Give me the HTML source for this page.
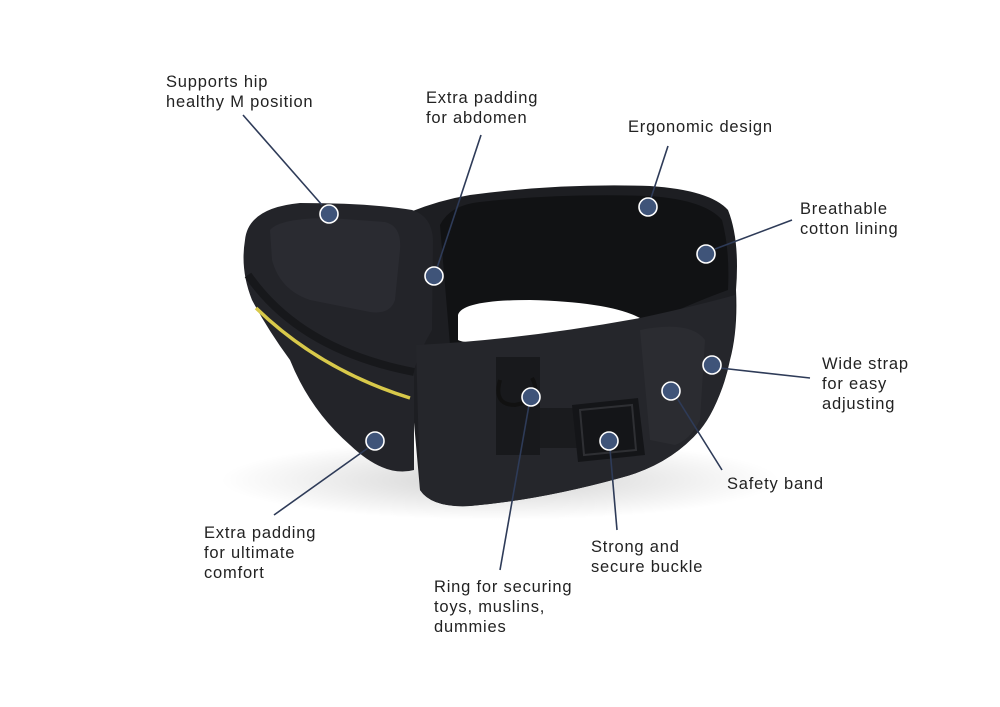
<!DOCTYPE html>
<html><head><meta charset="utf-8"><style>
html,body{margin:0;padding:0;background:#fff;}
svg{display:block;}
text{font-family:"Liberation Sans",sans-serif;font-size:16.5px;fill:#222;letter-spacing:0.8px;}
</style></head><body>
<svg width="1000" height="707" viewBox="0 0 1000 707" xmlns="http://www.w3.org/2000/svg">
<defs>
<radialGradient id="sh" cx="0.5" cy="0.5" r="0.5"><stop offset="0" stop-color="#000" stop-opacity="0.18"/><stop offset="1" stop-color="#000" stop-opacity="0"/></radialGradient>
</defs>
<ellipse cx="500" cy="480" rx="280" ry="40" fill="url(#sh)"/>
<!-- main belt -->
<path d="M410,212 Q440,200 470,195 Q560,183 650,186 Q710,190 728,210 Q740,240 736,290 Q738,330 730,360 Q722,400 700,430 Q670,465 620,478 Q540,500 470,506 Q432,508 420,490 L412,400 L410,330 Z" fill="#1d1e22"/>
<!-- seat -->
<path d="M245,240 Q248,208 300,203 Q370,203 412,210 Q432,216 433,240 L432,330 Q420,350 414,370 L414,470 Q385,478 350,445 Q310,410 290,360 Q268,330 252,300 Q240,270 245,240 Z" fill="#232429"/>
<path d="M270,230 Q280,218 330,218 L385,222 Q402,226 400,250 L395,300 Q390,315 370,312 L310,300 Q280,290 272,260 Z" fill="#2a2b31"/>
<path d="M248,275 Q300,350 414,372" stroke="#17181b" stroke-width="8" fill="none"/>
<!-- yellow stripe -->
<path d="M256,308 Q320,370 410,398" stroke="#d8c94a" stroke-width="3.5" fill="none"/>
<!-- inner lining -->
<path d="M440,225 Q450,205 480,202 Q560,193 650,196 Q705,200 722,220 Q730,250 728,290 Q700,300 660,318 Q600,330 520,338 Q470,346 450,345 Z" fill="#111214"/>
<!-- hole -->
<path d="M458,315 Q462,300 530,300 Q610,302 640,318 Q600,330 520,338 Q470,346 458,340 Z" fill="#fff"/>
<!-- front band -->
<path d="M416,345 Q520,340 640,318 Q700,305 735,295 L735,330 Q725,400 700,430 Q670,465 620,478 Q540,500 470,506 Q432,508 420,490 Z" fill="#25262b"/>
<!-- safety band strap -->
<path d="M640,330 Q690,320 705,340 L700,420 Q690,440 675,445 L650,440 Z" fill="#2b2c31"/>
<!-- ring strap -->
<rect x="496" y="357" width="44" height="98" fill="#18191c"/>
<path d="M500,380 Q493,405 515,405 L528,402 Q540,392 532,378" stroke="#111" stroke-width="4" fill="none"/>
<!-- buckle -->
<rect x="540" y="408" width="40" height="40" fill="#1a1b1e"/>
<path d="M572,405 L638,398 L645,455 L578,462 Z" fill="#141518"/>
<path d="M580,410 L632,405 L636,450 L584,455 Z" fill="none" stroke="#2e2f33" stroke-width="2"/>
<!-- connector lines -->
<g stroke="#2e3b58" stroke-width="1.6" fill="none">
<line x1="243" y1="115" x2="322" y2="205"/>
<line x1="481" y1="135" x2="437" y2="268"/>
<line x1="668" y1="146" x2="651" y2="198"/>
<line x1="792" y1="220" x2="715" y2="249"/>
<line x1="810" y1="378" x2="720" y2="368"/>
<line x1="722" y1="470" x2="677" y2="398"/>
<line x1="617" y1="530" x2="610" y2="449"/>
<line x1="500" y1="570" x2="529" y2="405"/>
<line x1="274" y1="515" x2="368" y2="448"/>
</g>
<g fill="#3f5479" stroke="#fff" stroke-width="1.6">
<circle cx="329" cy="214" r="9"/>
<circle cx="434" cy="276" r="9"/>
<circle cx="648" cy="207" r="9"/>
<circle cx="706" cy="254" r="9"/>
<circle cx="712" cy="365" r="9"/>
<circle cx="671" cy="391" r="9"/>
<circle cx="609" cy="441" r="9"/>
<circle cx="531" cy="397" r="9"/>
<circle cx="375" cy="441" r="9"/>
</g>
<text x="166" y="87">Supports hip</text>
<text x="166" y="107">healthy M position</text>
<text x="426" y="103">Extra padding</text>
<text x="426" y="123">for abdomen</text>
<text x="628" y="132">Ergonomic design</text>
<text x="800" y="214">Breathable</text>
<text x="800" y="234">cotton lining</text>
<text x="822" y="369">Wide strap</text>
<text x="822" y="389">for easy</text>
<text x="822" y="409">adjusting</text>
<text x="727" y="489">Safety band</text>
<text x="591" y="552">Strong and</text>
<text x="591" y="572">secure buckle</text>
<text x="434" y="592">Ring for securing</text>
<text x="434" y="612">toys, muslins,</text>
<text x="434" y="632">dummies</text>
<text x="204" y="538">Extra padding</text>
<text x="204" y="558">for ultimate</text>
<text x="204" y="578">comfort</text>
</svg>
</body></html>
